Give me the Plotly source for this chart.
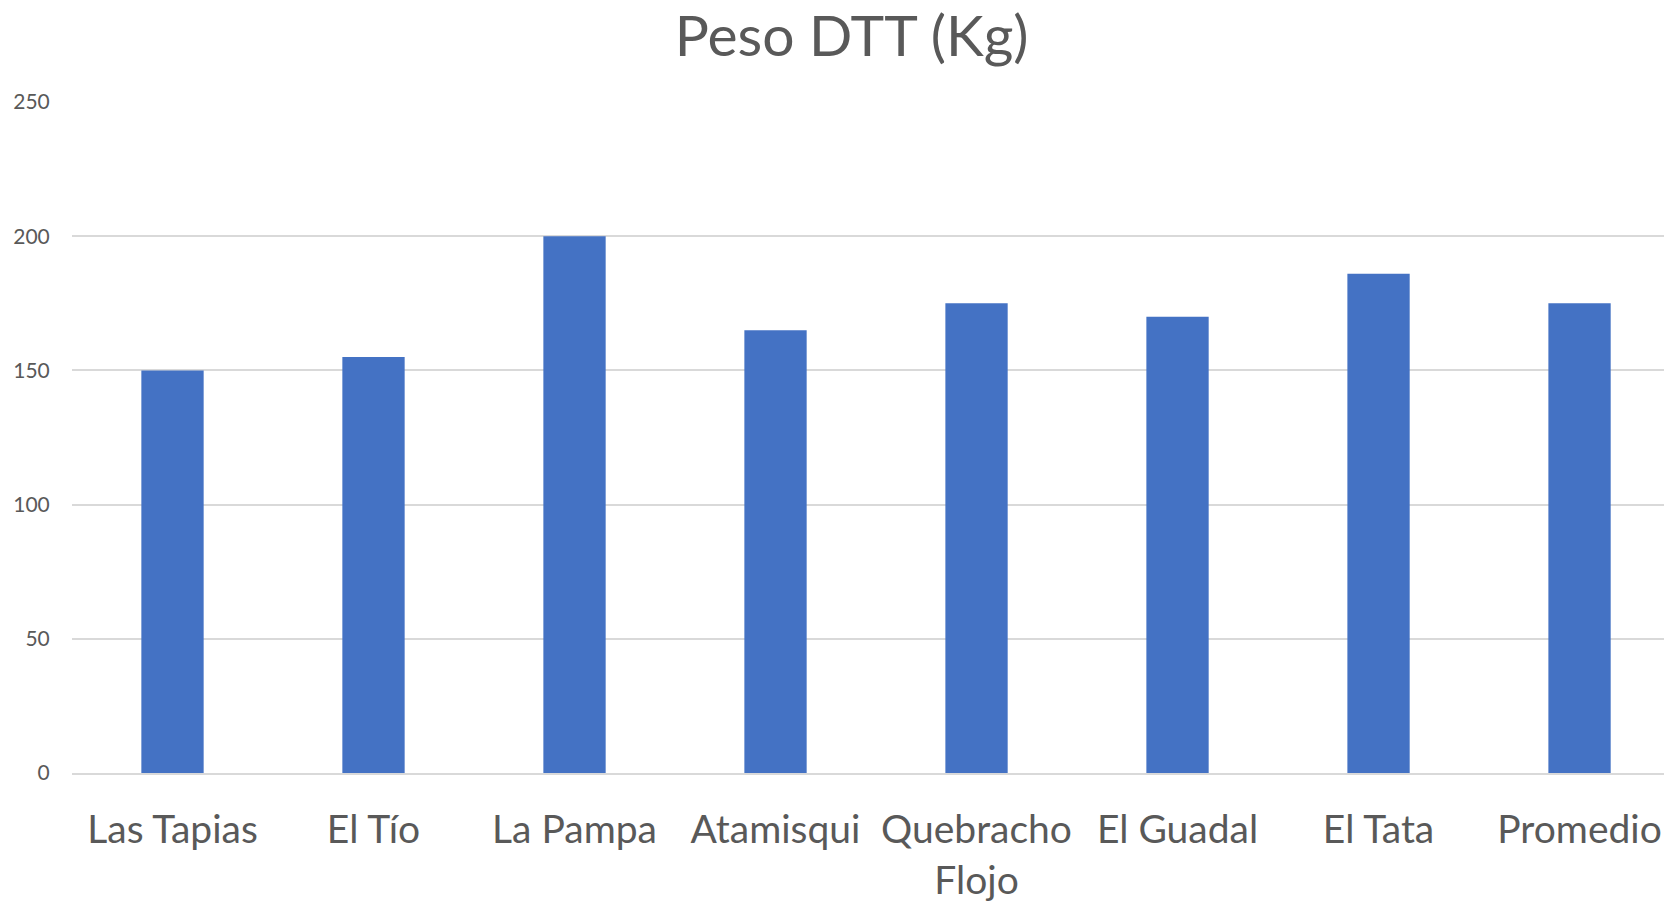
import plotly.graph_objects as go

categorias = ["Las Tapias", "El Tío", "La Pampa", "Atamisqui", "Quebracho<br>Flojo",
              "El Guadal", "El Tata", "Promedio"]
peso_dtt = [150, 155, 200, 165, 175, 170, 186, 175]
y_ticks = [0, 50, 100, 150, 200, 250]

fig = go.Figure(go.Bar(
    x=categorias,
    y=peso_dtt,
    marker=dict(color="#4472C4", line=dict(width=0)),
))

# la pagina tiene 8px de margen en el body, por eso el tamano es 1664x895
fig.update_layout(
    width=1664, height=895,
    paper_bgcolor="white", plot_bgcolor="white",
    margin=dict(l=64, r=0, t=94, b=130),
    bargap=0.69,
    showlegend=False,
    font=dict(family="Lato, 'Open Sans', sans-serif", color="#595959"),
    title=dict(text="Peso DTT (Kg)", x=0.507, xanchor="center", y=0.969, yanchor="middle",
               font=dict(size=57, color="#595959")),
    xaxis=dict(
        range=[-0.5, 7.46],
        showgrid=False,
        showline=True, linecolor="#D9D9D9", linewidth=2,
        tickfont=dict(size=39, color="#595959"),
        ticks="outside", ticklen=21, tickcolor="rgba(0,0,0,0)",
        automargin=False,
    ),
    yaxis=dict(
        range=[0, 250],
        tickvals=y_ticks,
        showgrid=True, gridcolor="#D9D9D9", gridwidth=2,
        zeroline=False, showline=False,
        tickfont=dict(size=21, color="#595959"),
        ticks="outside", ticklen=17, tickcolor="rgba(0,0,0,0)",
        automargin=False,
    ),
)

fig.write_html("out.html")
